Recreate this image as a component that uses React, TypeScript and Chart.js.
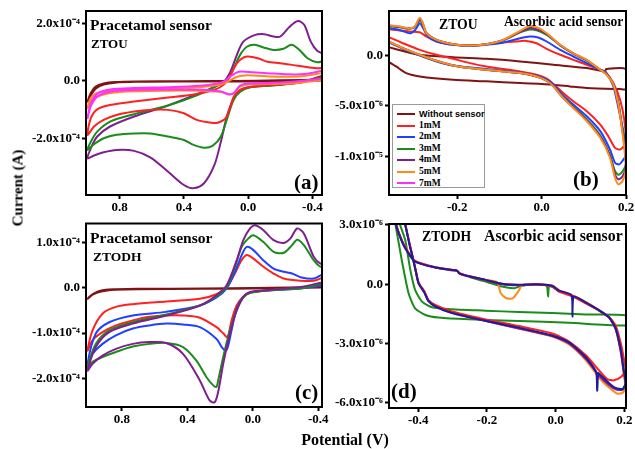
import React, { useEffect, useRef } from 'react';
import { Chart, registerables } from 'chart.js';

Chart.register(...registerables);

type P = [number, number][];

const SERIF = '"Liberation Serif", "Times New Roman", serif';
const SANS = '"Liberation Sans", Arial, sans-serif';

const BROWN = '#801414';
const RED = '#ff2020';
const BLUE = '#2040ff';
const GREEN = '#1a8c1a';
const PURPLE = '#7f1f8f';
const ORANGE = '#ff8c1a';
const MAGENTA = '#ff30ff';
const NAVY = '#1c1c9c';

// ---------- Panel (a): Pracetamol sensor, ZTOU  (potential V, current x1e-4 A)
const A_X_TICKS = [0.8, 0.4, 0.0, -0.4];
const A_X_LABELS = ['0.8', '0.4', '0.0', '-0.4'];
const A_Y_TICKS = [2, 0, -2];
const A_Y_LABELS = ['2.0x10⁻⁴', '0.0', '-2.0x10⁻⁴'];

const A_WITHOUT: P = [[-0.48, 0.05], [-0.2, 0.02], [0.1, 0.0], [0.4, -0.01], [0.7, -0.02], [0.83, -0.04], [0.9, -0.09], [0.95, -0.2], [0.98, -0.42], [1.0, -0.72], [0.98, -0.5], [0.95, -0.27], [0.9, -0.13], [0.83, -0.06], [0.7, -0.03], [0.4, -0.02], [0.1, -0.02], [-0.2, -0.01], [-0.48, 0.02]];
const A_1MM: P = [[-0.48, 0.15], [-0.33, -0.05], [-0.14, -0.14], [-0.015, -0.2], [0.05, -0.31], [0.09, -0.55], [0.11, -0.9], [0.14, -1.3], [0.19, -1.46], [0.23, -1.46], [0.32, -1.36], [0.4, -1.13], [0.5, -1.01], [0.61, -1.01], [0.71, -1.07], [0.82, -1.19], [0.9, -1.36], [0.96, -1.59], [1.0, -1.88], [0.98, -1.3], [0.94, -0.99], [0.86, -0.84], [0.71, -0.72], [0.5, -0.58], [0.34, -0.47], [0.21, -0.31], [0.15, -0.12], [0.11, 0.21], [0.07, 0.62], [0.03, 0.81], [0.0, 0.85], [-0.06, 0.79], [-0.12, 0.67], [-0.2, 0.62], [-0.31, 0.53], [-0.43, 0.44], [-0.48, 0.47]];
const A_3MM: P = [[-0.48, 0.2], [-0.33, -0.05], [-0.14, -0.16], [-0.015, -0.22], [0.047, -0.37], [0.09, -0.66], [0.13, -1.3], [0.17, -1.94], [0.22, -2.26], [0.275, -2.33], [0.34, -2.23], [0.4, -2.06], [0.5, -1.94], [0.61, -1.83], [0.71, -1.83], [0.82, -1.88], [0.9, -2.0], [0.96, -2.21], [1.0, -2.41], [0.98, -2.12], [0.94, -1.77], [0.86, -1.42], [0.71, -1.16], [0.5, -0.86], [0.34, -0.55], [0.19, -0.16], [0.13, 0.03], [0.09, 0.44], [0.05, 0.91], [0.006, 1.2], [-0.04, 1.26], [-0.1, 1.16], [-0.16, 1.08], [-0.22, 1.12], [-0.27, 1.26], [-0.32, 1.08], [-0.37, 0.79], [-0.43, 0.65], [-0.48, 0.72]];
const A_4MM: P = [[-0.48, 0.22], [-0.33, -0.05], [-0.14, -0.16], [-0.015, -0.21], [0.047, -0.31], [0.09, -0.6], [0.13, -1.19], [0.17, -2.12], [0.21, -2.93], [0.275, -3.57], [0.34, -3.74], [0.4, -3.63], [0.5, -3.16], [0.61, -2.67], [0.71, -2.44], [0.82, -2.41], [0.9, -2.49], [0.96, -2.6], [1.0, -2.7], [0.98, -2.35], [0.94, -1.94], [0.86, -1.59], [0.71, -1.24], [0.5, -0.86], [0.34, -0.51], [0.23, -0.26], [0.15, -0.02], [0.11, 0.33], [0.07, 0.91], [0.03, 1.37], [-0.04, 1.6], [-0.1, 1.63], [-0.16, 1.55], [-0.2, 1.55], [-0.26, 1.9], [-0.31, 2.09], [-0.35, 1.95], [-0.39, 1.37], [-0.43, 1.05], [-0.48, 0.92]];
const A_5MM: P = [[-0.48, 0.05], [-0.33, -0.06], [-0.2, -0.1], [-0.01, -0.12], [0.05, -0.2], [0.09, -0.42], [0.12, -0.46], [0.17, -0.38], [0.3, -0.34], [0.5, -0.34], [0.71, -0.36], [0.86, -0.42], [0.94, -0.55], [0.98, -0.72], [1.0, -0.95], [0.98, -0.6], [0.94, -0.42], [0.86, -0.34], [0.71, -0.3], [0.5, -0.27], [0.3, -0.22], [0.17, -0.12], [0.12, 0.0], [0.08, 0.12], [0.04, 0.18], [0.0, 0.2], [-0.1, 0.17], [-0.2, 0.15], [-0.33, 0.16], [-0.48, 0.3]];
const A_7MM: P = [[-0.48, 0.09], [-0.22, -0.05], [-0.01, -0.09], [0.05, -0.16], [0.09, -0.43], [0.12, -0.47], [0.17, -0.37], [0.3, -0.31], [0.5, -0.3], [0.71, -0.31], [0.86, -0.38], [0.94, -0.55], [0.98, -0.88], [1.0, -1.3], [0.98, -0.78], [0.94, -0.45], [0.86, -0.3], [0.71, -0.25], [0.5, -0.22], [0.3, -0.17], [0.2, -0.1], [0.15, -0.02], [0.11, 0.16], [0.07, 0.3], [0.04, 0.33], [-0.03, 0.3], [-0.12, 0.27], [-0.25, 0.23], [-0.35, 0.24], [-0.48, 0.38]];

// ---------- Panel (b): Ascorbic acid sensor, ZTOU (current x1e-6 A)
const B_X_TICKS = [-0.2, 0.0, 0.2];
const B_X_LABELS = ['-0.2', '0.0', '0.2'];
const B_Y_TICKS = [0, -5, -10];
const B_Y_LABELS = ['0.0', '-5.0x10⁻⁶', '-1.0x10⁻⁵'];

const B_WITHOUT: P = [[-0.37, -0.45], [-0.345, -1.09], [-0.321, -1.75], [-0.289, -2.08], [-0.21, -2.41], [-0.131, -2.57], [-0.051, -2.74], [0.028, -2.9], [0.067, -3.07], [0.107, -3.23], [0.186, -3.33], [0.2, -3.33], [0.2, -1.35], [0.153, -1.35], [0.15, -1.58], [0.107, -1.25], [0.028, -0.92], [-0.051, -0.59], [-0.131, -0.33], [-0.21, -0.17], [-0.289, 0.07], [-0.37, 0.9]];
const B_1MM: P = [[-0.37, 1.95], [-0.329, 1.22], [-0.289, 0.56], [-0.249, 0.07], [-0.21, -0.33], [-0.17, -0.76], [-0.131, -1.09], [-0.051, -1.58], [-0.012, -1.91], [0.012, -2.31], [0.028, -2.84], [0.051, -3.73], [0.075, -4.55], [0.107, -5.54], [0.139, -6.86], [0.158, -8.02], [0.174, -9.17], [0.186, -9.34], [0.195, -9.0], [0.2, -8.6], [0.196, -6.4], [0.186, -4.39], [0.17, -2.74], [0.152, -1.65], [0.139, -1.42], [0.107, -0.92], [0.075, -0.43], [0.044, 0.07], [0.012, 0.66], [-0.012, 1.22], [-0.036, 1.45], [-0.051, 1.42], [-0.091, 1.29], [-0.131, 1.12], [-0.17, 0.99], [-0.21, 1.06], [-0.249, 1.39], [-0.273, 1.88], [-0.289, 2.31], [-0.313, 2.38], [-0.37, 2.64]];
const B_2MM: P = [[-0.37, 1.45], [-0.329, 0.66], [-0.289, 0.0], [-0.249, -0.59], [-0.21, -0.99], [-0.131, -1.35], [-0.051, -1.68], [-0.012, -2.01], [0.012, -2.41], [0.028, -2.9], [0.051, -3.96], [0.075, -4.88], [0.107, -6.04], [0.139, -7.52], [0.162, -9.34], [0.174, -10.66], [0.184, -10.82], [0.194, -10.33], [0.2, -9.9], [0.195, -7.85], [0.182, -5.21], [0.17, -3.07], [0.152, -1.65], [0.139, -1.42], [0.107, -0.76], [0.075, -0.1], [0.044, 0.56], [0.012, 1.39], [-0.008, 1.78], [-0.028, 1.88], [-0.051, 1.72], [-0.091, 1.29], [-0.131, 1.06], [-0.17, 0.96], [-0.21, 1.06], [-0.249, 1.39], [-0.27, 1.88], [-0.28, 2.64], [-0.289, 3.2], [-0.3, 2.54], [-0.313, 2.21], [-0.337, 2.54], [-0.37, 2.75]];
const B_3MM: P = [[-0.37, 1.5], [-0.329, 0.72], [-0.289, 0.05], [-0.249, -0.54], [-0.21, -0.99], [-0.17, -1.25], [-0.131, -1.42], [-0.051, -1.75], [-0.012, -2.08], [0.012, -2.51], [0.028, -3.07], [0.051, -4.15], [0.075, -5.1], [0.107, -6.35], [0.139, -7.95], [0.162, -9.9], [0.174, -11.5], [0.182, -11.85], [0.192, -11.5], [0.2, -10.7], [0.196, -8.6], [0.19, -6.9], [0.182, -4.7], [0.17, -2.85], [0.154, -1.85], [0.139, -1.42], [0.107, -0.5], [0.075, 0.18], [0.044, 1.0], [0.012, 2.05], [-0.012, 2.5], [-0.028, 2.58], [-0.051, 2.3], [-0.091, 1.5], [-0.131, 1.12], [-0.17, 0.99], [-0.21, 1.12], [-0.249, 1.55], [-0.273, 2.21], [-0.283, 3.2], [-0.289, 3.5], [-0.293, 3.3], [-0.301, 2.8], [-0.313, 2.65], [-0.337, 2.8], [-0.37, 2.95]];
const B_4MM: P = [[-0.37, 1.52], [-0.329, 0.73], [-0.289, 0.06], [-0.249, -0.53], [-0.21, -0.99], [-0.17, -1.25], [-0.131, -1.42], [-0.051, -1.75], [-0.012, -2.08], [0.012, -2.51], [0.028, -3.07], [0.051, -4.2], [0.075, -5.15], [0.107, -6.45], [0.139, -8.05], [0.162, -10.0], [0.174, -11.8], [0.182, -12.3], [0.192, -12.0], [0.2, -11.0], [0.196, -8.9], [0.19, -7.0], [0.182, -4.8], [0.17, -2.88], [0.154, -1.9], [0.139, -1.42], [0.107, -0.46], [0.075, 0.2], [0.044, 1.03], [0.012, 2.15], [-0.012, 2.62], [-0.028, 2.72], [-0.051, 2.35], [-0.091, 1.55], [-0.131, 1.12], [-0.17, 0.99], [-0.21, 1.12], [-0.249, 1.55], [-0.273, 2.21], [-0.283, 3.3], [-0.289, 3.65], [-0.293, 3.4], [-0.301, 2.85], [-0.313, 2.7], [-0.337, 2.85], [-0.37, 3.0]];
const B_5MM: P = [[-0.37, 1.55], [-0.329, 0.73], [-0.289, 0.07], [-0.249, -0.53], [-0.21, -0.99], [-0.17, -1.25], [-0.131, -1.42], [-0.091, -1.58], [-0.051, -1.75], [-0.012, -2.08], [0.012, -2.51], [0.028, -3.07], [0.051, -4.22], [0.075, -5.21], [0.107, -6.53], [0.139, -8.18], [0.162, -10.16], [0.174, -12.14], [0.182, -12.8], [0.192, -12.47], [0.2, -11.2], [0.196, -9.17], [0.19, -7.19], [0.182, -4.88], [0.17, -2.9], [0.154, -1.91], [0.139, -1.42], [0.107, -0.43], [0.075, 0.23], [0.044, 1.06], [0.012, 2.21], [-0.008, 2.75], [-0.028, 2.92], [-0.051, 2.45], [-0.091, 1.55], [-0.131, 1.12], [-0.17, 0.99], [-0.21, 1.12], [-0.249, 1.55], [-0.273, 2.21], [-0.283, 3.37], [-0.289, 3.76], [-0.293, 3.53], [-0.301, 2.87], [-0.313, 2.71], [-0.337, 2.87], [-0.37, 3.04]];

const LEGEND_LABELS = ['Without sensor', '1mM', '2mM', '3mM', '4mM', '5mM', '7mM'];
const LEGEND_COLORS = [BROWN, RED, BLUE, GREEN, PURPLE, ORANGE, MAGENTA];

// ---------- Panel (c): Pracetamol sensor, ZTODH (current x1e-4 A)
const C_X_TICKS = [0.8, 0.4, 0.0, -0.4];
const C_X_LABELS = ['0.8', '0.4', '0.0', '-0.4'];
const C_Y_TICKS = [1, 0, -1, -2];
const C_Y_LABELS = ['1.0x10⁻⁴', '0.0', '-1.0x10⁻⁴', '-2.0x10⁻⁴'];

const C_WITHOUT: P = [[-0.45, 0.01], [0.0, -0.01], [0.3, -0.02], [0.7, -0.03], [0.84, -0.04], [0.9, -0.06], [0.95, -0.1], [0.98, -0.15], [1.01, -0.24], [0.98, -0.14], [0.95, -0.08], [0.9, -0.04], [0.84, -0.03], [0.7, -0.02], [0.3, -0.01], [0.0, 0.0], [-0.45, 0.02]];
const C_1MM: P = [[-0.45, 0.07], [-0.435, 0.06], [-0.29, 0.0], [-0.107, -0.05], [0.017, -0.1], [0.058, -0.19], [0.099, -0.39], [0.13, -0.72], [0.155, -1.09], [0.18, -1.01], [0.222, -0.87], [0.324, -0.66], [0.427, -0.61], [0.529, -0.61], [0.632, -0.64], [0.734, -0.72], [0.837, -0.83], [0.919, -0.98], [0.98, -1.16], [1.01, -1.39], [0.98, -0.94], [0.919, -0.57], [0.837, -0.42], [0.734, -0.36], [0.529, -0.3], [0.324, -0.24], [0.222, -0.14], [0.16, 0.02], [0.11, 0.32], [0.07, 0.61], [0.037, 0.73], [-0.004, 0.65], [-0.065, 0.47], [-0.127, 0.32], [-0.189, 0.21], [-0.291, 0.16], [-0.373, 0.16], [-0.435, 0.24], [-0.45, 0.26]];
const C_2MM: P = [[-0.45, 0.05], [-0.435, 0.06], [-0.29, -0.01], [-0.107, -0.05], [0.017, -0.1], [0.058, -0.2], [0.099, -0.46], [0.13, -0.94], [0.15, -1.27], [0.164, -1.39], [0.19, -1.31], [0.222, -1.13], [0.324, -0.87], [0.427, -0.81], [0.529, -0.79], [0.632, -0.83], [0.734, -0.9], [0.837, -1.05], [0.919, -1.24], [0.98, -1.46], [1.01, -1.68], [0.96, -1.01], [0.878, -0.76], [0.734, -0.61], [0.529, -0.53], [0.324, -0.39], [0.222, -0.21], [0.16, -0.01], [0.109, 0.36], [0.068, 0.73], [0.037, 0.91], [-0.004, 0.84], [-0.065, 0.61], [-0.127, 0.43], [-0.189, 0.36], [-0.24, 0.32], [-0.291, 0.24], [-0.373, 0.21], [-0.435, 0.32], [-0.45, 0.34]];
const C_3MM: P = [[-0.45, 0.09], [-0.435, 0.1], [-0.29, -0.01], [-0.107, -0.05], [0.017, -0.11], [0.058, -0.21], [0.099, -0.5], [0.14, -0.94], [0.181, -1.53], [0.212, -2.05], [0.222, -2.19], [0.242, -2.16], [0.283, -1.98], [0.345, -1.61], [0.427, -1.31], [0.529, -1.22], [0.632, -1.24], [0.734, -1.3], [0.837, -1.42], [0.919, -1.53], [0.98, -1.64], [1.01, -1.76], [0.96, -1.24], [0.878, -0.94], [0.734, -0.76], [0.529, -0.59], [0.324, -0.39], [0.222, -0.19], [0.16, 0.02], [0.109, 0.47], [0.068, 0.91], [0.027, 1.1], [-0.004, 1.17], [-0.065, 1.02], [-0.127, 0.8], [-0.189, 0.78], [-0.24, 0.95], [-0.271, 1.07], [-0.312, 0.95], [-0.373, 0.61], [-0.414, 0.47], [-0.435, 0.5], [-0.45, 0.52]];
const C_4MM: P = [[-0.45, 0.12], [-0.435, 0.13], [-0.29, 0.02], [-0.107, -0.04], [0.017, -0.09], [0.058, -0.2], [0.099, -0.5], [0.14, -1.01], [0.181, -1.68], [0.21, -2.27], [0.232, -2.53], [0.263, -2.5], [0.324, -2.05], [0.427, -1.46], [0.529, -1.22], [0.632, -1.2], [0.734, -1.24], [0.837, -1.35], [0.919, -1.5], [0.98, -1.68], [1.01, -1.83], [0.96, -1.31], [0.878, -0.98], [0.734, -0.79], [0.529, -0.61], [0.324, -0.39], [0.222, -0.16], [0.16, 0.06], [0.099, 0.61], [0.058, 1.06], [0.017, 1.32], [-0.014, 1.39], [-0.065, 1.28], [-0.127, 1.06], [-0.189, 1.0], [-0.23, 1.1], [-0.271, 1.32], [-0.312, 1.21], [-0.373, 0.69], [-0.414, 0.54], [-0.435, 0.58], [-0.45, 0.6]];

// ---------- Panel (d): Ascorbic acid sensor, ZTODH (current x1e-6 A)
const D_X_TICKS = [-0.4, -0.2, 0.0, 0.2];
const D_X_LABELS = ['-0.4', '-0.2', '0.0', '0.2'];
const D_Y_TICKS = [3, 0, -3, -6];
const D_Y_LABELS = ['3.0x10⁻⁶', '0.0', '-3.0x10⁻⁶', '-6.0x10⁻⁶'];

const D_NAVY: P = [[-0.47, 3.3], [-0.457, 2.59], [-0.438, 1.83], [-0.409, 1.15], [-0.35, 0.85], [-0.3, 0.72], [-0.287, 0.69], [-0.28, 0.55], [-0.25, 0.39], [-0.204, 0.22], [-0.156, 0.02], [-0.107, -0.03], [-0.058, 0.0], [-0.01, -0.08], [0.01, -0.32], [0.046, -0.55], [0.049, -1.64], [0.053, -0.62], [0.088, -0.93], [0.126, -1.31], [0.156, -1.68], [0.175, -2.24], [0.19, -3.34], [0.198, -4.3], [0.204, -5.0], [0.195, -5.3], [0.175, -5.25], [0.155, -5.0], [0.128, -4.55], [0.124, -4.5], [0.121, -5.4], [0.118, -4.45], [0.088, -3.7], [0.039, -2.95], [-0.01, -2.6], [-0.107, -2.2], [-0.204, -1.85], [-0.302, -1.45], [-0.35, -1.12], [-0.37, -0.85], [-0.382, -0.42], [-0.399, 0.05], [-0.41, 0.9], [-0.425, 2.0], [-0.44, 3.2], [-0.45, 4.0]];
const D_RED: P = [[-0.47, 3.4], [-0.457, 2.65], [-0.438, 1.88], [-0.409, 1.18], [-0.35, 0.86], [-0.3, 0.72], [-0.287, 0.69], [-0.28, 0.56], [-0.25, 0.4], [-0.204, 0.22], [-0.156, 0.02], [-0.107, -0.04], [-0.058, -0.02], [-0.01, -0.12], [0.01, -0.38], [0.049, -0.62], [0.088, -0.97], [0.126, -1.33], [0.156, -1.66], [0.175, -2.1], [0.19, -3.0], [0.198, -3.7], [0.204, -4.4], [0.19, -4.7], [0.17, -4.87], [0.15, -4.8], [0.126, -4.35], [0.088, -3.6], [0.039, -2.9], [-0.01, -2.5], [-0.107, -2.12], [-0.204, -1.78], [-0.302, -1.38], [-0.35, -1.05], [-0.37, -0.8], [-0.382, -0.35], [-0.399, 0.1], [-0.41, 0.95], [-0.425, 2.05], [-0.44, 3.25], [-0.45, 4.0]];
const D_PURPLE: P = [[-0.47, 3.3], [-0.457, 2.6], [-0.438, 1.85], [-0.409, 1.16], [-0.35, 0.84], [-0.3, 0.7], [-0.287, 0.68], [-0.28, 0.54], [-0.25, 0.38], [-0.204, 0.2], [-0.156, 0.0], [-0.107, -0.05], [-0.058, -0.02], [-0.01, -0.1], [0.01, -0.35], [0.049, -0.6], [0.088, -0.95], [0.126, -1.33], [0.156, -1.7], [0.175, -2.28], [0.19, -3.4], [0.198, -4.4], [0.204, -5.1], [0.195, -5.35], [0.175, -5.32], [0.155, -5.1], [0.128, -4.65], [0.088, -3.78], [0.039, -3.0], [-0.01, -2.63], [-0.107, -2.24], [-0.204, -1.87], [-0.302, -1.46], [-0.35, -1.13], [-0.37, -0.86], [-0.382, -0.42], [-0.399, 0.05], [-0.41, 0.9], [-0.425, 2.0], [-0.44, 3.2], [-0.45, 4.0]];
const D_ORANGE: P = [[-0.47, 3.3], [-0.457, 2.6], [-0.438, 1.83], [-0.409, 1.15], [-0.35, 0.85], [-0.3, 0.72], [-0.287, 0.68], [-0.28, 0.55], [-0.25, 0.4], [-0.204, 0.22], [-0.17, 0.1], [-0.16, -0.45], [-0.145, -0.7], [-0.125, -0.72], [-0.108, -0.35], [-0.098, -0.04], [-0.058, 0.0], [-0.01, -0.06], [0.01, -0.3], [0.049, -0.55], [0.088, -0.9], [0.126, -1.3], [0.156, -1.68], [0.175, -2.3], [0.19, -3.5], [0.198, -4.5], [0.204, -5.3], [0.195, -5.5], [0.18, -5.55], [0.16, -5.3], [0.13, -4.8], [0.088, -3.85], [0.039, -3.05], [-0.01, -2.65], [-0.107, -2.25], [-0.204, -1.85], [-0.302, -1.42], [-0.35, -1.1], [-0.37, -0.85], [-0.382, -0.4], [-0.399, 0.05], [-0.41, 0.9], [-0.425, 2.0], [-0.44, 3.2], [-0.45, 4.0]];
const D_GREEN: P = [[-0.457, 3.2], [-0.438, 2.25], [-0.423, 0.73], [-0.409, -0.29], [-0.389, -0.88], [-0.36, -1.17], [-0.302, -1.27], [-0.204, -1.34], [-0.107, -1.41], [-0.01, -1.46], [0.088, -1.53], [0.21, -1.59], [0.21, -2.08], [0.039, -1.95], [-0.107, -1.86], [-0.253, -1.78], [-0.341, -1.69], [-0.379, -1.56], [-0.409, -1.22], [-0.428, -0.46], [-0.448, 1.24], [-0.467, 3.1]];
const D_GREEN_MAIN: P = [[-0.25, 0.36], [-0.204, 0.14], [-0.156, -0.12], [-0.12, -0.2], [-0.1, -0.08], [-0.058, -0.02], [-0.026, -0.08], [-0.022, -0.62], [-0.018, -0.1], [0.01, -0.32]];

// ---------- shared helpers
type Axis = { min: number; max: number; reverse?: boolean; ticks: number[]; labels: string[] };
type Series = { data: P; color: string };
type PanelCfg = {
  canvas: { left: number; top: number; width: number; height: number };
  area: { left: number; top: number; right: number; bottom: number };
  x: Axis;
  y: Axis;
  series: Series[];
  tension: number;
};

const labelOf = (ax: Axis, v: number) => {
  const i = ax.ticks.findIndex((t) => Math.abs(t - v) < 1e-9);
  return i >= 0 ? ax.labels[i] : '';
};

const framePlugin = {
  id: 'frame',
  afterDatasetsDraw(chart: any) {
    const { ctx, chartArea } = chart;
    const { left, top, right, bottom } = chartArea;
    ctx.save();
    ctx.strokeStyle = '#000';
    ctx.lineWidth = 2;
    ctx.strokeRect(left, top, right - left, bottom - top);
    ctx.restore();
  },
};

function buildConfig(p: PanelCfg): any {
  const padTop = p.area.top - p.canvas.top;
  const padRight = p.canvas.left + p.canvas.width - p.area.right;
  const yW = p.area.left - p.canvas.left;
  const xH = p.canvas.top + p.canvas.height - p.area.bottom;
  const tickFont = { family: SERIF, weight: 'bold', size: 13 };
  const grid = { display: true, drawOnChartArea: false, drawTicks: true, tickLength: 4, tickWidth: 2, tickColor: '#000', color: '#000' };
  return {
    type: 'scatter',
    data: {
      datasets: p.series.map((s) => ({
        data: s.data.map(([x, y]) => ({ x, y })),
        showLine: true,
        borderColor: s.color,
        backgroundColor: s.color,
        borderWidth: 2,
        pointRadius: 0,
        tension: p.tension,
        fill: false,
      })),
    },
    options: {
      animation: false,
      responsive: false,
      maintainAspectRatio: false,
      devicePixelRatio: 1,
      events: [],
      layout: { padding: { top: padTop, right: padRight, left: 0, bottom: 0 } },
      plugins: { legend: { display: false }, tooltip: { enabled: false } },
      scales: {
        x: {
          type: 'linear',
          position: 'bottom',
          min: p.x.min,
          max: p.x.max,
          reverse: !!p.x.reverse,
          afterBuildTicks: (s: any) => { s.ticks = p.x.ticks.map((v) => ({ value: v })); },
          afterFit: (s: any) => { s.height = xH; },
          ticks: { autoSkip: false, maxRotation: 0, minRotation: 0, padding: 1, color: '#000', font: tickFont, callback: (v: number) => labelOf(p.x, v) },
          grid,
          border: { display: false },
        },
        y: {
          type: 'linear',
          position: 'left',
          min: p.y.min,
          max: p.y.max,
          afterBuildTicks: (s: any) => { s.ticks = p.y.ticks.map((v) => ({ value: v })); },
          afterFit: (s: any) => { s.width = yW; },
          ticks: { autoSkip: false, padding: 2, color: '#000', font: tickFont, callback: (v: number) => labelOf(p.y, v) },
          grid,
          border: { display: false },
        },
      },
    },
    plugins: [framePlugin],
  };
}

function Panel({ cfg }: { cfg: PanelCfg }) {
  const ref = useRef<HTMLCanvasElement>(null);
  useEffect(() => {
    const chart = new Chart(ref.current as HTMLCanvasElement, buildConfig(cfg));
    return () => chart.destroy();
  }, []);
  const c = cfg.canvas;
  return (
    <canvas
      ref={ref}
      width={c.width}
      height={c.height}
      style={{ position: 'absolute', left: c.left, top: c.top, width: c.width, height: c.height }}
    />
  );
}

function Label({ x, base, size, text, sans, center }: { x: number; base: number; size: number; text: string; sans?: boolean; center?: boolean }) {
  const asc = sans ? 0.8465 : 0.8375;
  return (
    <div
      style={{
        position: 'absolute',
        left: x,
        top: base - asc * size,
        fontFamily: sans ? SANS : SERIF,
        fontWeight: 'bold',
        fontSize: size,
        lineHeight: `${size}px`,
        whiteSpace: 'nowrap',
        color: '#000',
        transform: center ? 'translateX(-50%)' : undefined,
      }}
    >
      {text}
    </div>
  );
}

const PANEL_A: PanelCfg = {
  canvas: { left: 0, top: 0, width: 334, height: 216 },
  area: { left: 86, top: 11, right: 322, bottom: 195 },
  x: { min: -0.46, max: 1.01, reverse: true, ticks: A_X_TICKS, labels: A_X_LABELS },
  y: { min: -3.98, max: 2.44, ticks: A_Y_TICKS, labels: A_Y_LABELS },
  series: [
    { data: A_7MM, color: MAGENTA },
    { data: A_5MM, color: ORANGE },
    { data: A_1MM, color: RED },
    { data: A_3MM, color: GREEN },
    { data: A_4MM, color: PURPLE },
    { data: A_WITHOUT, color: BROWN },
  ],
  tension: 0.3,
};

const PANEL_B: PanelCfg = {
  canvas: { left: 320, top: 0, width: 318, height: 216 },
  area: { left: 389, top: 11, right: 626, bottom: 195 },
  x: { min: -0.362, max: 0.2, ticks: B_X_TICKS, labels: B_X_LABELS },
  y: { min: -13.86, max: 4.42, ticks: B_Y_TICKS, labels: B_Y_LABELS },
  series: [
    { data: B_5MM, color: ORANGE },
    { data: B_4MM, color: PURPLE },
    { data: B_3MM, color: GREEN },
    { data: B_2MM, color: BLUE },
    { data: B_1MM, color: RED },
    { data: B_WITHOUT, color: BROWN },
  ],
  tension: 0.25,
};

const PANEL_C: PanelCfg = {
  canvas: { left: 0, top: 212, width: 334, height: 216 },
  area: { left: 86, top: 223.5, right: 322, bottom: 407 },
  x: { min: -0.423, max: 1.02, reverse: true, ticks: C_X_TICKS, labels: C_X_LABELS },
  y: { min: -2.64, max: 1.43, ticks: C_Y_TICKS, labels: C_Y_LABELS },
  series: [
    { data: C_4MM, color: PURPLE },
    { data: C_3MM, color: GREEN },
    { data: C_2MM, color: BLUE },
    { data: C_1MM, color: RED },
    { data: C_WITHOUT, color: BROWN },
  ],
  tension: 0.3,
};

const PANEL_D: PanelCfg = {
  canvas: { left: 320, top: 212, width: 318, height: 216 },
  area: { left: 389, top: 224, right: 626, bottom: 408 },
  x: { min: -0.485, max: 0.205, ticks: D_X_TICKS, labels: D_X_LABELS },
  y: { min: -6.27, max: 3.05, ticks: D_Y_TICKS, labels: D_Y_LABELS },
  series: [
    { data: D_NAVY, color: NAVY },
    { data: D_RED, color: RED },
    { data: D_PURPLE, color: PURPLE },
    { data: D_ORANGE, color: ORANGE },
    { data: D_GREEN, color: GREEN },
    { data: D_GREEN_MAIN, color: GREEN },
  ],
  tension: 0.2,
};

function Legend() {
  const left = 391.7;
  const top = 104.3;
  return (
    <>
      <div style={{ position: 'absolute', left, top, width: 93, height: 84, border: '1px solid #9a9a9a', background: '#fff', boxSizing: 'border-box' }} />
      {LEGEND_LABELS.map((name, i) => {
        const cy = 114 + i * 11.55;
        return (
          <React.Fragment key={name}>
            <div style={{ position: 'absolute', left: 396.5, top: cy - 1, width: 18.5, height: 2, background: LEGEND_COLORS[i] }} />
            <Label x={419} base={cy + 3.2} size={i === 0 ? 9 : 9.5} text={name} sans={i === 0} />
          </React.Fragment>
        );
      })}
    </>
  );
}

export default function App() {
  return (
    <div style={{ position: 'fixed', left: 0, top: 0, width: 635, height: 449, background: '#fff', overflow: 'hidden' }}>
      <Panel cfg={PANEL_A} />
      <Panel cfg={PANEL_B} />
      <Panel cfg={PANEL_C} />
      <Panel cfg={PANEL_D} />

      <Label x={90} base={30} size={15.5} text="Pracetamol sensor" />
      <Label x={91} base={47.7} size={13} text="ZTOU" />
      <Label x={294} base={189.3} size={21} text="(a)" />

      <Label x={439} base={29} size={13.7} text="ZTOU" />
      <Label x={504} base={26.7} size={13.6} text="Ascorbic acid sensor" />
      <Label x={573} base={186.3} size={21} text="(b)" />
      <Legend />

      <Label x={90} base={243.3} size={15.6} text="Pracetamol sensor" />
      <Label x={93} base={261.7} size={13.5} text="ZTODH" />
      <Label x={295} base={399.3} size={21} text="(c)" />

      <Label x={422} base={241} size={13.7} text="ZTODH" />
      <Label x={484} base={241.7} size={15.8} text="Ascorbic acid sensor" />
      <Label x={391} base={398.3} size={21} text="(d)" />

      <Label x={345} base={445} size={16} text="Potential (V)" center />
      <div
        style={{
          position: 'absolute',
          left: 18.1,
          top: 188,
          transform: 'translate(-50%, -50%) rotate(-90deg)',
          fontFamily: SERIF,
          fontWeight: 'bold',
          fontSize: 15,
          lineHeight: '15px',
          whiteSpace: 'nowrap',
          color: '#000',
        }}
      >
        Current (A)
      </div>
    </div>
  );
}
